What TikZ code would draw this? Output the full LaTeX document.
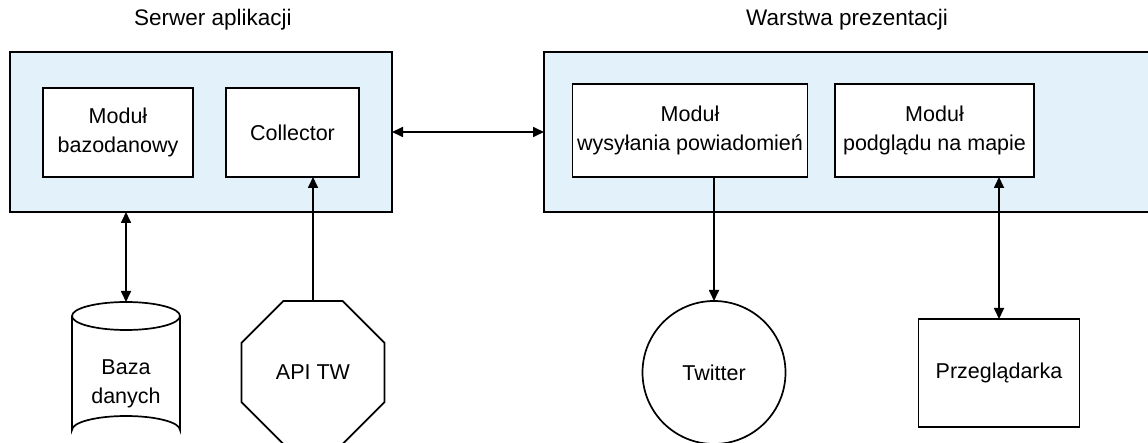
\documentclass[tikz,border=0pt]{standalone}
\usepackage{fontspec}
\setmainfont{Liberation Sans}
\usetikzlibrary{arrows.meta,shapes.geometric}
\definecolor{panelblue}{RGB}{227,242,250}
\tikzset{
  lbl/.style={font=\fontsize{21.5}{29}\selectfont, align=center},
  title/.style={font=\fontsize{22.5}{27}\selectfont},
  panel/.style={draw=black, line width=1.7pt, fill=panelblue},
  module/.style={draw=black, line width=1.7pt, fill=white, lbl, inner sep=0pt, outer sep=0pt},
  link/.style={line width=1.7pt, -{Triangle[length=11pt,width=10pt]}},
  duplex/.style={line width=1.7pt, {Triangle[length=11pt,width=10pt]}-{Triangle[length=11pt,width=10pt]}},
}
\begin{document}
\begin{tikzpicture}[x=1pt,y=-1pt]
\useasboundingbox (0,0) rectangle (1148,443);

% layer titles
\node[title] (t1) at (213,20) {Serwer aplikacji};
\node[title] (t2) at (847,20) {Warstwa prezentacji};

% containers
\node[panel, minimum width=382pt, minimum height=160pt, inner sep=0pt, outer sep=0pt] (srv) at (201,132) {};
\node[panel, minimum width=620pt, minimum height=160pt, inner sep=0pt, outer sep=0pt] (pres) at (854,132) {};

% inner modules
\node[module, minimum width=150pt, minimum height=89pt] (db) at (118,132.5) {Moduł\\bazodanowy};
\node[module, minimum width=133pt, minimum height=89pt] (col) at (292.5,132.5) {Collector};
\node[module, minimum width=235pt, minimum height=93pt] (notif) at (690,130.5) {Moduł\\wysyłania powiadomień};
\node[module, minimum width=199pt, minimum height=93pt] (map) at (934.5,130.5) {Moduł\\podglądu na mapie};

% database cylinder
\draw[line width=1.7pt, fill=white] (72,316) -- (72,430)
  arc[start angle=180, end angle=360, x radius=54, y radius=14] -- (180,316);
\draw[line width=1.7pt, fill=white] (126,316) ellipse[x radius=54, y radius=14];
\coordinate (cyl) at (126,302);
\node[lbl] (base) at (126,384) {Baza\\danych};

% external endpoints
\node[draw=black, line width=1.7pt, regular polygon, regular polygon sides=8,
  minimum size=154.8pt, inner sep=0pt, outer sep=0pt, lbl] (api) at (313,372.5) {API TW};
\node[draw=black, line width=1.7pt, circle, minimum size=143pt, inner sep=0pt,
  outer sep=0pt, lbl] (tw) at (714,372.5) {Twitter};
\node[module, minimum width=161pt, minimum height=108pt] (www) at (999,373) {Przeglądarka};

% connectors
\draw[duplex] (srv.east) -- (pres.west |- srv.east);
\draw[duplex] (srv.south -| cyl) -- (cyl);
\draw[link] (api.north) -- (api.north |- col.south);
\draw[link] (notif.south -| tw.north) -- (tw.north);
\draw[duplex] (map.south -| www.north) -- (www.north);
\end{tikzpicture}
\end{document}
